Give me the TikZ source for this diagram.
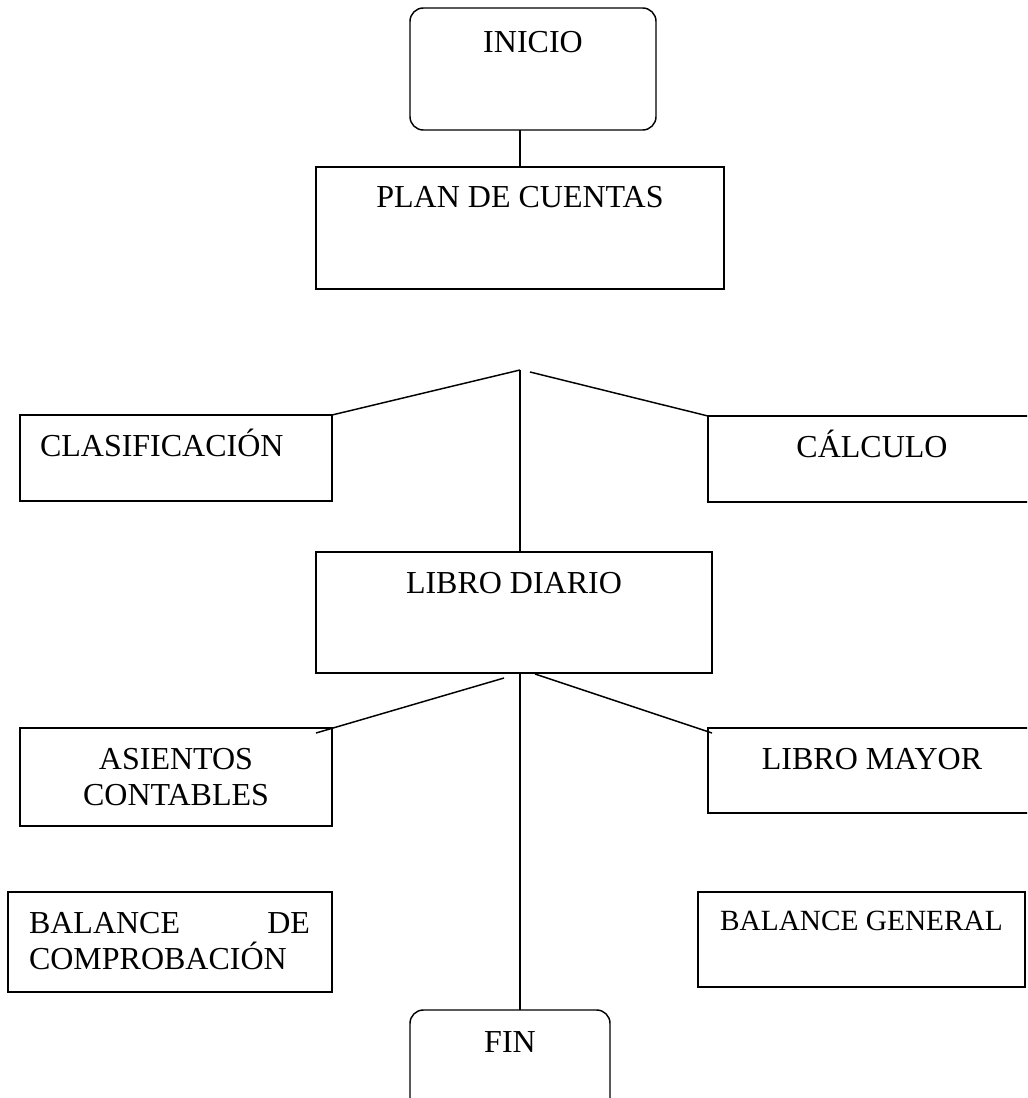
\documentclass[tikz,border=0pt]{standalone}
\usepackage{fontspec}
\setmainfont{Liberation Serif}
\newcommand{\boxtext}[4][30.75pt]{\parbox[t][#3][t]{#2}{\centering\rule{0pt}{#1}#4}}
\begin{document}
\begin{tikzpicture}[
  x=0.75pt, y=-0.75pt,
  box/.style={rectangle, draw, line width=1.1pt, inner sep=0pt, outer sep=0pt, anchor=north west, font=\fontsize{24pt}{27.5pt}\selectfont},
  endbox/.style={box, rounded corners=10pt},
  link/.style={line width=1.1pt}
]
  \clip (0,0) rectangle (1027,1098);

  % Start and chart of accounts (top)
  \node[endbox] (inicio) at (410,8) {\boxtext[33.75pt]{184.5pt}{91.5pt}{INICIO}};
  \node[box] (plan) at (316,167) {\boxtext{306pt}{91.5pt}{PLAN DE CUENTAS}};

  % Branches of the plan
  \node[box] (clasif) at (20,415) {\boxtext{234pt}{64.5pt}{\makebox[234pt][l]{\hspace{15pt}CLASIFICACIÓN}}};
  \node[box] (calc) at (708,416) {\boxtext{246pt}{64.5pt}{CÁLCULO}};

  % Journal (middle)
  \node[box] (diario) at (316,552) {\boxtext{297pt}{90.75pt}{LIBRO DIARIO}};

  % Branches of the journal
  \node[box] (asientos) at (20,728) {\boxtext{234pt}{73.5pt}{ASIENTOS\\CONTABLES}};
  \node[box] (mayor) at (708,728) {\boxtext{246pt}{63.75pt}{LIBRO MAYOR}};

  % Balances (bottom)
  \node[box] (bcomp) at (8,892) {\boxtext{243pt}{75pt}{\makebox[243pt][s]{\hspace{15.75pt}BALANCE\hfill DE\hspace{16.5pt}}\\\makebox[243pt][l]{\hspace{15.75pt}COMPROBACIÓN}}};
  \node[box, font=\fontsize{22pt}{25pt}\selectfont] (bgen) at (698,892) {\boxtext[28.5pt]{245.25pt}{71.25pt}{BALANCE GENERAL}};

  % End
  \node[endbox] (fin) at (410,1010) {\boxtext[31.5pt]{150pt}{90pt}{FIN}};

  % Free ends of the fan lines
  \coordinate (forkL) at (520,370);
  \coordinate (forkR) at (530,372);
  \coordinate (spreadL) at (504,678);
  \coordinate (spreadR) at (535,674);
  \coordinate (endL) at (316,733);
  \coordinate (endR) at (712,733);

  % Connectors
  \draw[link] (inicio.south -| plan.north) -- (plan.north);
  \draw[link] (forkL) -- (clasif.north east);
  \draw[link] (forkL) -- (forkL |- diario.north);
  \draw[link] (forkR) -- (calc.north west);
  \draw[link] (spreadL) -- (endL);
  \draw[link] (spreadR) -- (endR);
  \draw[link] (forkL |- diario.south) -- (forkL |- fin.north);
\end{tikzpicture}
\end{document}
